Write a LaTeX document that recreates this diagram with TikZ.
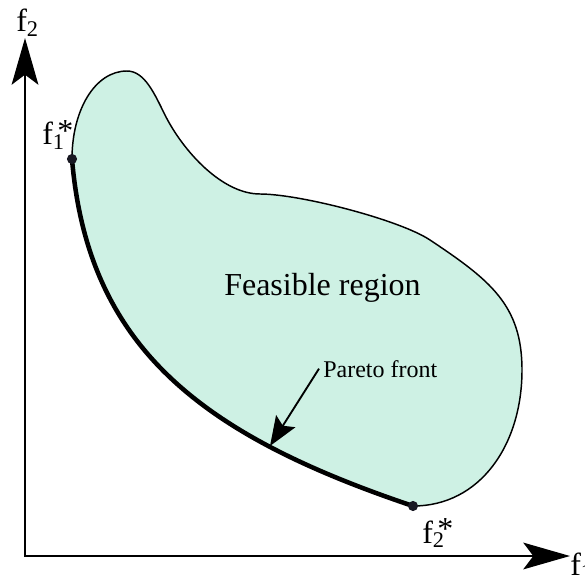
\documentclass[tikz,border=0pt]{standalone}
\usepackage{fontspec}
\setmainfont{Liberation Serif}
\usetikzlibrary{arrows.meta}

\definecolor{mint}{RGB}{206,241,228}
\definecolor{dotcol}{RGB}{24,24,34}

\newcommand{\optf}[1]{f\rlap{\hspace{0.14em}\raisebox{0.1em}{*}}\textsubscript{#1}}

\begin{document}
\begin{tikzpicture}[x=0.75pt, y=-0.75pt,
    >={Stealth[length=35pt, width=20pt, inset=7.5pt]},
    axis/.style={line width=2pt, line join=miter},
    region/.style={fill=mint, draw=black, line width=1.1pt},
    front/.style={line width=3.4pt, line cap=round},
    dot/.style={fill=dotcol},
    big/.style={font=\fontsize{24}{28}\selectfont, inner sep=0pt},
    small/.style={font=\fontsize{18}{21}\selectfont, inner sep=3pt}]

    \useasboundingbox (0,0) rectangle (585,577);

    % axis
    \coordinate (origin) at (25,556);
    \coordinate (ytip) at (25,38);
    \coordinate (xtip) at (570,556);
    \draw[axis, <->] (ytip) -- (origin) -- (xtip);
    \node[big, anchor=base west] (ylabel) at (16,32) {f\textsubscript{2}};
    \node[big, anchor=base west] (xlabel) at (570,575) {f\textsubscript{1}};

    % feasible region
    \coordinate (p1) at (72,159);
    \coordinate (p2) at (413,506);
    \filldraw[region] (p1)
        .. controls (72,110) and (95,71) .. (127,71)
        .. controls (145,71) and (155,95) .. (165,115)
        .. controls (183,151) and (222,194) .. (260,194)
        .. controls (300,194) and (400,220) .. (430,240)
        .. controls (490,280) and (522,305) .. (522,370)
        .. controls (522,445) and (480,506) .. (p2)
        .. controls (205,436) and (88,350) .. (p1)
        -- cycle;

    % pareto front
    \draw[front] (p2) .. controls (205,436) and (88,350) .. (p1);

    \fill[dot] (p1) circle (3.8pt);
    \fill[dot] (p2) circle (3.8pt);
    \node[big, anchor=base west] (opt1) at (42,145) {\optf{1}};
    \node[big, anchor=base west] (opt2) at (422,543) {\optf{2}};

    \node[big, anchor=base west] (feasible) at (224,295) {Feasible region};

    \coordinate (hit) at (270,446);
    \node[small, anchor=base west] (pareto) at (319,377) {Pareto front};
    \draw[line width=1.4pt, -{Stealth[length=22pt, width=17pt, inset=4pt]}]
        (pareto.west) -- (hit);
\end{tikzpicture}
\end{document}
